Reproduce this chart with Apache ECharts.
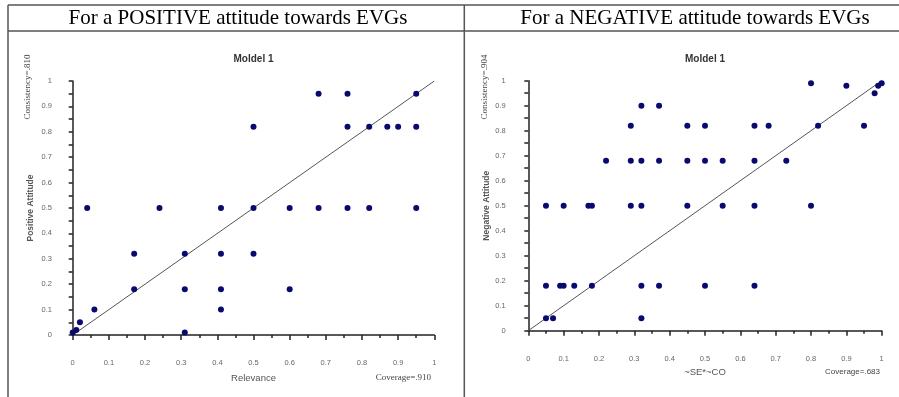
<!DOCTYPE html>
<html>
<head>
<meta charset="utf-8">
<script src="https://cdn.jsdelivr.net/npm/echarts@6/dist/echarts.min.js"></script>
<style>
html,body{margin:0;padding:0;background:#fff;}
#c{width:899px;height:397px;}
</style>
</head>
<body>
<div id="c"></div>
<script>
// ---- data ----
var headers = ['For a POSITIVE attitude towards EVGs', 'For a NEGATIVE attitude towards EVGs'];
var chartTitles = ['Moldel 1', 'Moldel 1'];
var xNames = ['Relevance', '~SE*~CO'];
var yNames = ['Positive Attitude', 'Negative Attitude'];
var consistencyTexts = ['Consistency=.810', 'Consistency=.904'];
var coverageTexts = ['Coverage=.910', 'Coverage=.683'];

var positiveX = [0.68,0.76,0.95, 0.50,0.76,0.82,0.87,0.90,0.95,
                 0.04,0.24,0.41,0.50,0.60,0.68,0.76,0.82,0.95,
                 0.17,0.31,0.41,0.50,
                 0.17,0.31,0.41,0.60,
                 0.06,0.41,
                 0.02,0.01,0.00,0.31];
var positiveY = [0.95,0.95,0.95, 0.82,0.82,0.82,0.82,0.82,0.82,
                 0.50,0.50,0.50,0.50,0.50,0.50,0.50,0.50,0.50,
                 0.32,0.32,0.32,0.32,
                 0.18,0.18,0.18,0.18,
                 0.10,0.10,
                 0.05,0.02,0.01,0.01];

var negativeX = [0.80,0.90,0.98,0.99,1.00,
                 0.32,0.37,
                 0.29,0.45,0.50,0.64,0.68,0.82,0.95,
                 0.22,0.29,0.32,0.37,0.45,0.50,0.55,0.64,0.73,
                 0.05,0.10,0.17,0.18,0.29,0.32,0.45,0.55,0.64,0.80,
                 0.05,0.09,0.10,0.13,0.18,0.32,0.37,0.50,0.64,
                 0.05,0.07,0.32];
var negativeY = [0.99,0.98,0.95,0.98,0.99,
                 0.90,0.90,
                 0.82,0.82,0.82,0.82,0.82,0.82,0.82,
                 0.68,0.68,0.68,0.68,0.68,0.68,0.68,0.68,0.68,
                 0.50,0.50,0.50,0.50,0.50,0.50,0.50,0.50,0.50,0.50,
                 0.18,0.18,0.18,0.18,0.18,0.18,0.18,0.18,0.18,
                 0.05,0.05,0.05];

var fitLine = [[0,0],[1,1]];

function zip(xs, ys){ return xs.map(function(x,i){ return [x, ys[i]]; }); }

// ---- layout ----
var grids = [
  {left:72.7, top:81, width:361.6, height:254},
  {left:528.3, top:80.7, width:353.4, height:250}
];
var yOffsets = [10.7, 12.6];
var xOffsets = [10.7, 11];
var sansFam = 'Arial, "Liberation Sans", sans-serif';

var chart = echarts.init(document.getElementById('c'), null, {renderer:'canvas'});

var xAxes = [], yAxes = [], series = [];
var sansLbl = {color:'#666', fontSize:7.5, fontFamily:sansFam};
for (var i=0;i<2;i++){
  xAxes.push({
    type:'value', gridIndex:i, min:0, max:1, interval:0.1, offset:xOffsets[i],
    name:xNames[i], nameLocation:'middle', nameGap:i===0?28:26,
    nameTextStyle:{color:'#555', fontSize:9.5, fontFamily:sansFam},
    axisLine:{show:true, lineStyle:{color:'#222', width:1.5}},
    axisTick:{show:true, length:5, lineStyle:{color:'#222', width:1.5}},
    minorTick:{show:true, splitNumber:2, length:3, lineStyle:{color:'#222', width:1.5}},
    splitLine:{show:false}, minorSplitLine:{show:false},
    axisLabel:Object.assign({margin:13}, sansLbl)
  });
  yAxes.push({
    type:'value', gridIndex:i, min:0, max:1, interval:0.1, offset:yOffsets[i],
    name:yNames[i], nameLocation:'middle', nameGap:i===0?27:24, nameRotate:90,
    nameTextStyle:{color:'#555', fontSize:8.5, fontWeight:'bold', fontFamily:sansFam},
    axisLine:{show:true, lineStyle:{color:'#222', width:1.5}},
    axisTick:{show:true, length:4, lineStyle:{color:'#222', width:1.5}},
    minorTick:{show:true, splitNumber:2, length:4, lineStyle:{color:'#222', width:1.5}},
    splitLine:{show:false}, minorSplitLine:{show:false},
    axisLabel:Object.assign({margin:10}, sansLbl)
  });
  series.push({
    type:'line', xAxisIndex:i, yAxisIndex:i, data:fitLine, symbol:'none', silent:true,
    lineStyle:{color:'#555', width:1}, z:2
  });
  series.push({
    type:'scatter', xAxisIndex:i, yAxisIndex:i,
    data: i===0 ? zip(positiveX, positiveY) : zip(negativeX, negativeY),
    symbolSize:6, itemStyle:{color:'#0a0a6e', opacity:1}, z:3
  });
}

var borderStyle = {stroke:'#555', lineWidth:1.5};
var serif = '"Liberation Serif", "Times New Roman", serif';
var graphic = [
  {type:'line', shape:{x1:8,y1:5,x2:899,y2:5}, style:borderStyle},
  {type:'line', shape:{x1:8,y1:31,x2:899,y2:31}, style:borderStyle},
  {type:'line', shape:{x1:8,y1:5,x2:8,y2:397}, style:borderStyle},
  {type:'line', shape:{x1:464.3,y1:5,x2:464.3,y2:397}, style:borderStyle},
  {type:'text', x:238, y:18.5, style:{text:headers[0], font:'21px '+serif, fill:'#000', textAlign:'center', textVerticalAlign:'middle'}},
  {type:'text', x:695, y:18.5, style:{text:headers[1], font:'21px '+serif, fill:'#000', textAlign:'center', textVerticalAlign:'middle'}},
  {type:'text', x:253.5, y:59, style:{text:chartTitles[0], font:'bold 10px '+sansFam, fill:'#333', textAlign:'center', textVerticalAlign:'middle'}},
  {type:'text', x:705, y:59, style:{text:chartTitles[1], font:'bold 10px '+sansFam, fill:'#333', textAlign:'center', textVerticalAlign:'middle'}},
  {type:'text', x:28, y:87, rotation:Math.PI/2, style:{text:consistencyTexts[0], font:'9px '+serif, fill:'#444', textAlign:'center', textVerticalAlign:'middle'}},
  {type:'text', x:485, y:87, rotation:Math.PI/2, style:{text:consistencyTexts[1], font:'9px '+serif, fill:'#444', textAlign:'center', textVerticalAlign:'middle'}},
  {type:'text', x:431, y:378, style:{text:coverageTexts[0], font:'9px '+serif, fill:'#444', textAlign:'right', textVerticalAlign:'middle'}},
  {type:'text', x:880, y:372, style:{text:coverageTexts[1], font:'8px '+sansFam, fill:'#444', textAlign:'right', textVerticalAlign:'middle'}}
];

chart.setOption({
  animation:false,
  backgroundColor:'#fff',
  grid:grids,
  xAxis:xAxes,
  yAxis:yAxes,
  series:series,
  graphic:graphic
});
</script>
</body>
</html>
